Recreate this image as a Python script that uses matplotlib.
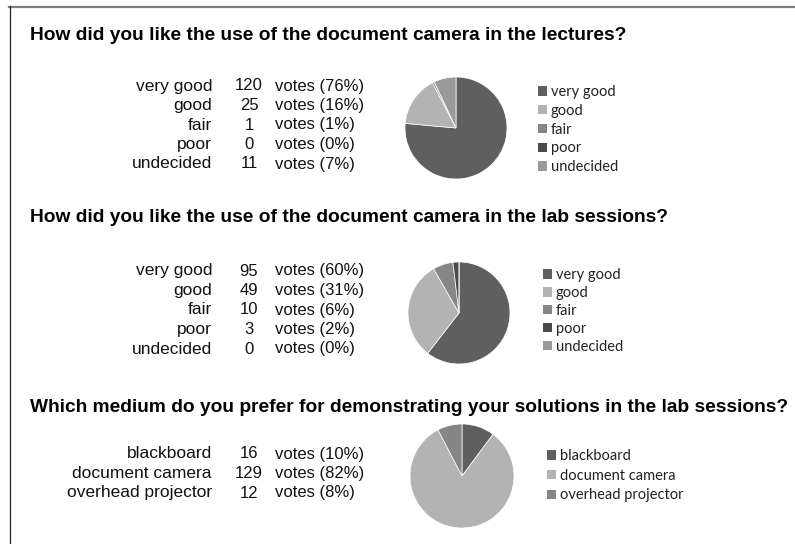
import matplotlib
matplotlib.use('Agg')
from matplotlib import pyplot as plt
from matplotlib.lines import Line2D

# survey data
q1_title = 'How did you like the use of the document camera in the lectures?'
q1_labels = ['very good', 'good', 'fair', 'poor', 'undecided']
q1_votes = [120, 25, 1, 0, 11]
q1_pct = [76, 16, 1, 0, 7]

q2_title = 'How did you like the use of the document camera in the lab sessions?'
q2_labels = ['very good', 'good', 'fair', 'poor', 'undecided']
q2_votes = [95, 49, 10, 3, 0]
q2_pct = [60, 31, 6, 2, 0]

q3_title = 'Which medium do you prefer for demonstrating your solutions in the lab sessions?'
q3_labels = ['blackboard', 'document camera', 'overhead projector']
q3_votes = [16, 129, 12]
q3_pct = [10, 82, 8]

colors5 = ['#5f5f5f', '#b3b3b3', '#868686', '#4a4a4a', '#9a9a9a']
colors3 = ['#5f5f5f', '#b3b3b3', '#868686']

W, H = 795, 544
fig = plt.figure(figsize=(W / 100, H / 100), dpi=100)


def fx(x):
    return x / W


def fy(y):
    return 1 - y / H


# frame lines (top and left only)
fig.add_artist(Line2D([fx(9), fx(795)], [fy(6.5), fy(6.5)], color='#7f7f7f', lw=1.6))
fig.add_artist(Line2D([fx(9.5), fx(9.5)], [fy(6), fy(544)], color='#222222', lw=0.9))

# title y, first row y, pie (cx, cy, r), legend (x, y, spacing)
blocks = [
    (q1_title, q1_labels, q1_votes, q1_pct, colors5, 36, 86, (456, 128, 51), (538, 92, 0.33)),
    (q2_title, q2_labels, q2_votes, q2_pct, colors5, 218, 271, (459, 313, 51), (543, 275, 0.27)),
    (q3_title, q3_labels, q3_votes, q3_pct, colors3, 408, 454, (462, 476, 52), (547, 456, 0.39)),
]

row_h = 19.5
for title, labels, votes, pct, cols, ty, ry, (cx, cy, r), (lx, ly, ls) in blocks:
    fig.text(fx(30), fy(ty), title, fontsize=13.8, fontweight='bold',
             family='Liberation Sans', va='center', ha='left')
    for i, (lab, v, p) in enumerate(zip(labels, votes, pct)):
        y = fy(ry + i * row_h)
        fig.text(fx(212), y, lab, fontsize=12.5, family='Liberation Sans',
                 ha='right', va='center', color='#111111')
        fig.text(fx(249), y, str(v), fontsize=12, family='Liberation Sans',
                 ha='center', va='center', color='#111111')
        fig.text(fx(275), y, 'votes (%d%%)' % p, fontsize=12, family='Liberation Sans',
                 ha='left', va='center', color='#111111')

    ax = fig.add_axes([fx(cx - r), fy(cy + r), 2 * r / W, 2 * r / H])
    wedges, _ = ax.pie(votes, colors=cols, startangle=90, counterclock=False,
                       wedgeprops=dict(edgecolor='white', linewidth=0.5))
    ax.set_aspect('equal')
    ax.set_xlim(-1.0, 1.0)
    ax.set_ylim(-1.0, 1.0)

    leg = fig.legend(wedges, labels, loc='upper left',
                     bbox_to_anchor=(fx(lx), fy(ly - 7)),
                     frameon=False, prop={'family': 'Lato', 'size': 10.5},
                     handlelength=0.62, handleheight=0.62, handletextpad=0.27,
                     labelspacing=ls, borderaxespad=0, borderpad=0)
    for h in leg.legend_handles:
        h.set_edgecolor('none')
    for t in leg.get_texts():
        t.set_color('#222222')

fig.savefig('out.png', dpi=100)
